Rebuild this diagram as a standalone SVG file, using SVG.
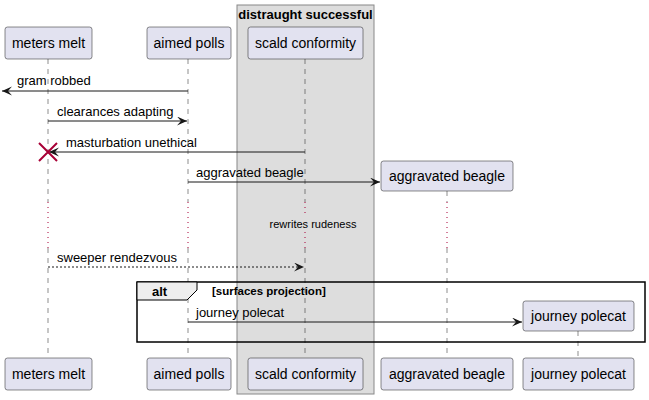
<svg xmlns="http://www.w3.org/2000/svg" width="649" height="400" viewBox="0 0 649 400">
<style>
text{font-family:"Liberation Sans",Arial,sans-serif;fill:#000}
.p rect{fill:#E2E2F0;stroke:#181818;stroke-width:0.5}
.p text{font-size:14px;text-anchor:middle}
.life{stroke:#181818;stroke-width:0.5;stroke-dasharray:5,5;fill:none}
.delay{stroke:#A80036;stroke-width:1;stroke-dasharray:1,4;fill:none}
.msg{stroke:#181818;stroke-width:1;fill:none}
.m{font-size:13px}
</style>
<defs>
<marker id="ah" markerWidth="12" markerHeight="10" refX="10" refY="4.5" orient="auto" markerUnits="userSpaceOnUse">
<polygon points="0,0 10,4.5 0,9 4,4.5" fill="#181818"/>
</marker>
</defs>
<rect x="237" y="5" width="137" height="389" fill="#DDDDDD" stroke="#888888" stroke-width="1"/>
<text x="305.5" y="19" font-size="13" font-weight="bold" text-anchor="middle">distraught successful</text>
<g id="lifelines">
<path class="life" d="M48,59V202M48,248V358"/>
<path class="delay" d="M48,202V248"/>
<path class="life" d="M188,59V202M188,248V358"/>
<path class="delay" d="M188,202V248"/>
<path class="life" d="M305,59V202M305,248V358"/>
<path class="delay" d="M305,202V216M305,232V248"/>
<path class="life" d="M447,191V202M447,248V358"/>
<path class="delay" d="M447,202V248"/>
<path class="life" d="M578,331V358"/>
</g>
<g id="meters-melt" class="p"><rect x="5" y="27" width="87" height="32" rx="2.5"/><text x="48.5" y="48">meters melt</text><rect x="5" y="358" width="87" height="32" rx="2.5"/><text x="48.5" y="379">meters melt</text></g>
<g id="aimed-polls" class="p"><rect x="147" y="27" width="84" height="32" rx="2.5"/><text x="189" y="48">aimed polls</text><rect x="147" y="358" width="84" height="32" rx="2.5"/><text x="189" y="379">aimed polls</text></g>
<g id="scald-conformity" class="p"><rect x="248" y="27" width="115" height="32" rx="2.5"/><text x="305.5" y="48">scald conformity</text><rect x="248" y="358" width="115" height="32" rx="2.5"/><text x="305.5" y="379">scald conformity</text></g>
<g id="aggravated-beagle" class="p"><rect x="381" y="161" width="132" height="30" rx="2.5"/><text x="447" y="181">aggravated beagle</text><rect x="381" y="358" width="132" height="32" rx="2.5"/><text x="447" y="379">aggravated beagle</text></g>
<g id="journey-polecat" class="p"><rect x="523" y="301" width="111" height="30" rx="2.5"/><text x="578.5" y="321">journey polecat</text><rect x="523" y="358" width="111" height="32" rx="2.5"/><text x="578.5" y="379">journey polecat</text></g>
<g id="connectors">
<line class="msg" x1="188" y1="91" x2="2" y2="91" marker-end="url(#ah)"/>
<text class="m" x="17" y="85">gram robbed</text>
<line class="msg" x1="48" y1="121" x2="187" y2="121" marker-end="url(#ah)"/>
<text class="m" x="57" y="116">clearances adapting</text>
<line class="msg" x1="305" y1="152" x2="49" y2="152" marker-end="url(#ah)"/>
<text class="m" x="66" y="147">masturbation unethical</text>
<path d="M39,143L57,161M57,143L39,161" stroke="#A80036" stroke-width="2"/>
<line class="msg" x1="188" y1="182" x2="380" y2="182" marker-end="url(#ah)"/>
<text class="m" x="196" y="177">aggravated beagle</text>
<text x="313" y="228" font-size="11" text-anchor="middle">rewrites rudeness</text>
<line class="msg" x1="48" y1="267" x2="304" y2="267" stroke-dasharray="2,2" marker-end="url(#ah)"/>
<text class="m" x="57" y="262">sweeper rendezvous</text>
<line class="msg" x1="188" y1="322" x2="522" y2="322" marker-end="url(#ah)"/>
<text class="m" x="196" y="317">journey polecat</text>
</g>
<g id="alt">
<rect x="137" y="282" width="508" height="60" fill="none" stroke="#000" stroke-width="1.5"/>
<polygon points="137,282 197,282 197,290 187,300 137,300" fill="#EEEEEE" stroke="#000" stroke-width="1"/>
<text x="152" y="296" font-size="13" font-weight="bold">alt</text>
<text x="212" y="295" font-size="11.5" font-weight="bold">[surfaces projection]</text>
</g>
</svg>
